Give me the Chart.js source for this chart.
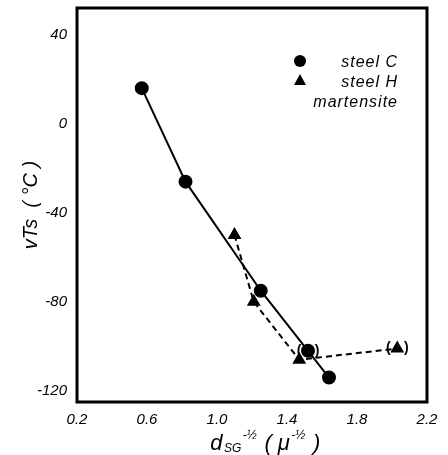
<!DOCTYPE html>
<html><head><meta charset="utf-8">
<script src="https://cdn.jsdelivr.net/npm/chart.js@4/dist/chart.umd.min.js"></script>
<style>html,body{margin:0;padding:0;background:#fff}</style>
</head><body>
<canvas id="c" width="448" height="455"></canvas>
<script>
// ---- data ----
const steelC_x = [0.57, 0.82, 1.25, 1.52, 1.64];
const steelC_y = [16, -26, -75, -102, -114];
const steelH_x = [1.10, 1.21, 1.47, 2.03];
const steelH_y = [-50, -80, -106, -101];
const xTicks = [0.2, 0.6, 1.0, 1.4, 1.8, 2.2];
const yTicks = [40, 0, -40, -80, -120];
const seriesNames = ['steel C', 'steel H', 'martensite'];
const yTitle = 'vTs  ( °C )';
const bracketed = [{series: 0, index: 3}, {series: 1, index: 3}];

const toPts = (xs, ys) => xs.map((x, i) => ({x: x, y: ys[i]}));
const FONT = '"Liberation Sans", "DejaVu Sans", sans-serif';

const decor = {
  id: 'decor',
  beforeDatasetsDraw(chart) {
    const {ctx, chartArea: a} = chart;
    ctx.save();
    ctx.strokeStyle = '#000';
    ctx.lineWidth = 3;
    ctx.strokeRect(a.left, a.top, a.right - a.left, a.bottom - a.top);
    ctx.restore();
  },
  afterDraw(chart) {
    const {ctx} = chart;
    const xs = chart.scales.x, ys = chart.scales.y;
    ctx.save();
    ctx.fillStyle = '#000';
    // brackets around some points
    ctx.font = 'bold 14px ' + FONT;
    ctx.textAlign = 'center';
    ctx.textBaseline = 'middle';
    bracketed.forEach(b => {
      const xv = b.series === 0 ? steelC_x[b.index] : steelH_x[b.index];
      const yv = b.series === 0 ? steelC_y[b.index] : steelH_y[b.index];
      const px = xs.getPixelForValue(xv), py = ys.getPixelForValue(yv);
      ctx.fillText('(', px - 9, py);
      ctx.fillText(')', px + 9, py);
    });
    // legend
    const lx = 300, rx = 398;
    ctx.beginPath(); ctx.arc(lx, 61, 6, 0, Math.PI * 2); ctx.fill();
    ctx.beginPath(); ctx.moveTo(lx, 74); ctx.lineTo(lx + 6, 85); ctx.lineTo(lx - 6, 85); ctx.closePath(); ctx.fill();
    ctx.font = 'italic 16px ' + FONT;
    ctx.textAlign = 'right';
    ctx.textBaseline = 'alphabetic';
    try { ctx.letterSpacing = '1px'; } catch (e) {}
    ctx.fillText(seriesNames[0], rx, 67);
    ctx.fillText(seriesNames[1], rx, 87);
    ctx.fillText(seriesNames[2], rx, 107);
    try { ctx.letterSpacing = '0px'; } catch (e) {}
    // x-axis title with sub/superscripts
    const parts = [
      {t: 'd', s: 22, dy: 0},
      {t: 'SG', s: 12, dy: 2},
      {t: '-½', s: 12, dy: -11},
      {t: ' ( μ', s: 22, dy: 0},
      {t: '-½', s: 12, dy: -11},
      {t: ' )', s: 22, dy: 0}
    ];
    let w = 0;
    parts.forEach(p => { ctx.font = 'italic ' + p.s + 'px ' + FONT; p.w = ctx.measureText(p.t).width; w += p.w + 1.5; });
    let x = 266 - w / 2;
    ctx.textAlign = 'left';
    parts.forEach(p => { ctx.font = 'italic ' + p.s + 'px ' + FONT; ctx.fillText(p.t, x, 450 + p.dy); x += p.w + 1.5; });
    ctx.restore();
  }
};

new Chart(document.getElementById('c'), {
  type: 'scatter',
  data: {
    datasets: [
      {
        label: seriesNames[0],
        data: toPts(steelC_x, steelC_y),
        showLine: true,
        borderColor: '#000',
        backgroundColor: '#000',
        borderWidth: 2,
        pointStyle: 'circle',
        pointRadius: 6,
        pointHoverRadius: 6
      },
      {
        label: seriesNames[1] + ' ' + seriesNames[2],
        data: toPts(steelH_x, steelH_y),
        showLine: true,
        borderColor: '#000',
        backgroundColor: '#000',
        borderWidth: 2,
        borderDash: [6, 4],
        pointStyle: 'triangle',
        pointRadius: 6,
        pointHoverRadius: 6
      }
    ]
  },
  options: {
    responsive: false,
    animation: false,
    layout: {padding: {left: 0, top: 7, right: 21, bottom: 0}},
    plugins: {legend: {display: false}, tooltip: {enabled: false}},
    scales: {
      x: {
        type: 'linear', min: 0.2, max: 2.2,
        afterBuildTicks: s => { s.ticks = xTicks.map(v => ({value: v})); },
        afterFit: s => { s.height = 53; s.paddingLeft = 0; s.paddingRight = 0; },
        grid: {display: false, drawTicks: false},
        border: {display: false},
        ticks: {
          padding: 9, color: '#000',
          font: {family: FONT, size: 15, style: 'italic'},
          callback: v => v.toFixed(1)
        },
        title: {display: false}
      },
      y: {
        type: 'linear', min: -125, max: 52,
        afterBuildTicks: s => { s.ticks = yTicks.map(v => ({value: v})); },
        afterFit: s => { s.width = 77; s.paddingTop = 0; s.paddingBottom = 0; },
        grid: {display: false, drawTicks: false},
        border: {display: false},
        ticks: {
          padding: 10, color: '#000',
          font: {family: FONT, size: 15, style: 'italic'},
          callback: v => String(v)
        },
        title: {
          display: true, text: yTitle, color: '#000',
          font: {family: FONT, size: 20, style: 'italic'},
          padding: {top: 19, bottom: 0}
        }
      }
    }
  },
  plugins: [decor]
});
</script>
</body></html>
